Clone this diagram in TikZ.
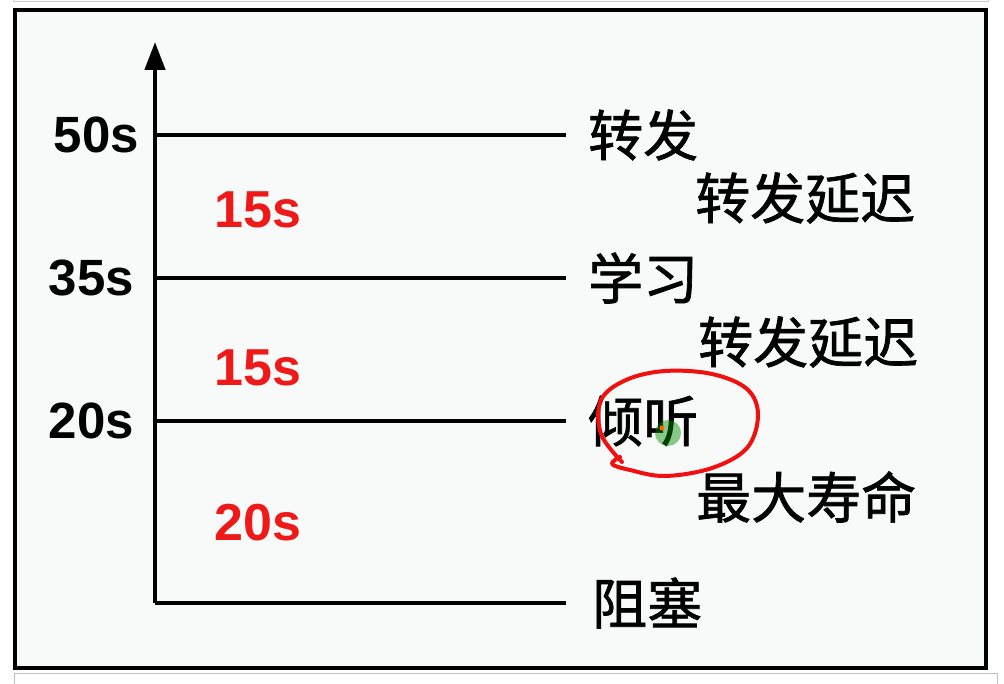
\documentclass[tikz,border=0pt]{standalone}
\usepackage{fontspec}
\setmainfont{Liberation Sans}
\newfontfamily\cjk[FakeBold=1.2]{Noto Sans CJK SC}
\usetikzlibrary{arrows.meta,positioning}
\definecolor{slidebg}{HTML}{F7FAF8}
\definecolor{timered}{HTML}{EE1A1A}
\definecolor{penred}{HTML}{F01010}

\begin{document}
\begin{tikzpicture}[x=1pt,y=-1pt,node distance=22pt]

\tikzset{timenode/.style={font=\fontsize{51}{58}\selectfont\bfseries,anchor=east,inner sep=0pt},
gapnode/.style={font=\fontsize{52}{60}\selectfont\bfseries,text=timered,inner sep=0pt},
statenode/.style={font=\cjk\fontsize{55}{62}\selectfont,anchor=west,inner sep=0pt},
level/.style={line width=4.5pt}}

\useasboundingbox (0,0) rectangle (1004,684);
\fill[white] (0,0) rectangle (1004,684);

% window edges
\draw[gray!40,line width=1pt] (13,-10) -- (13,2) -- (988,2) -- (988,-10);
\draw[gray!50,line width=1pt] (14,700) -- (14,673) -- (997,673) -- (997,700);

% frame
\draw[line width=4.5pt,fill=slidebg] (15,10) rectangle (986,668);

% Axis
\coordinate (origin) at (155,603);
\coordinate (top) at (155,42);
\draw[line width=4.5pt,-{Triangle[length=28pt,width=20pt]}] (origin) -- (top);

% levels
\coordinate (l50) at (155,135); \coordinate (r50) at (566,135);
\coordinate (l35) at (155,278); \coordinate (r35) at (566,278);
\coordinate (l20) at (155,421); \coordinate (r20) at (566,421);
\coordinate (r0) at (566,603);
\draw[level] (l50) -- (r50); \draw[level] (l35) -- (r35); \draw[level] (l20) -- (r20);
\draw[level] (origin) -- (r0);

% time labels
\node (t50) [timenode] at (139,135) {50s};
\node (t35) [timenode] at (134,278) {35s};
\node (t20) [timenode] at (134,421) {20s};

% durations
\node (d1) [gapnode] at (258,210) {15s};
\node (d2) [gapnode] at (258,368) {15s};
\node (d3) [gapnode] at (258,523) {20s};

% states
\node (s50) [statenode,right=of r50] {转发};
\node (s35) [statenode,right=of r35] {学习};
\node (s20) [statenode,right=of r20] {倾听};
\node (s0) [statenode,right=26pt of r0] {阻塞};

% timers
\node (f1) [statenode] at (695,198) {转发延迟};
\node (f2) [statenode] at (698,342) {转发延迟};
\node (m1) [statenode] at (696,497) {最大寿命};

% pen mark
\draw[penred,line width=4pt,line cap=round,line join=round] plot[smooth,tension=0.6] coordinates {(622,462) (601,434) (601,400) (626,380) (665,371) (712,374) (747,389) (758,415) (747,448) (712,468) (665,476) (630,470) (612,464) (620,457)};
\fill[green!55!black,opacity=0.45] (668,433) circle (13);
\fill[orange!80!red] (662,428) circle (2.5);

\end{tikzpicture}
\end{document}
